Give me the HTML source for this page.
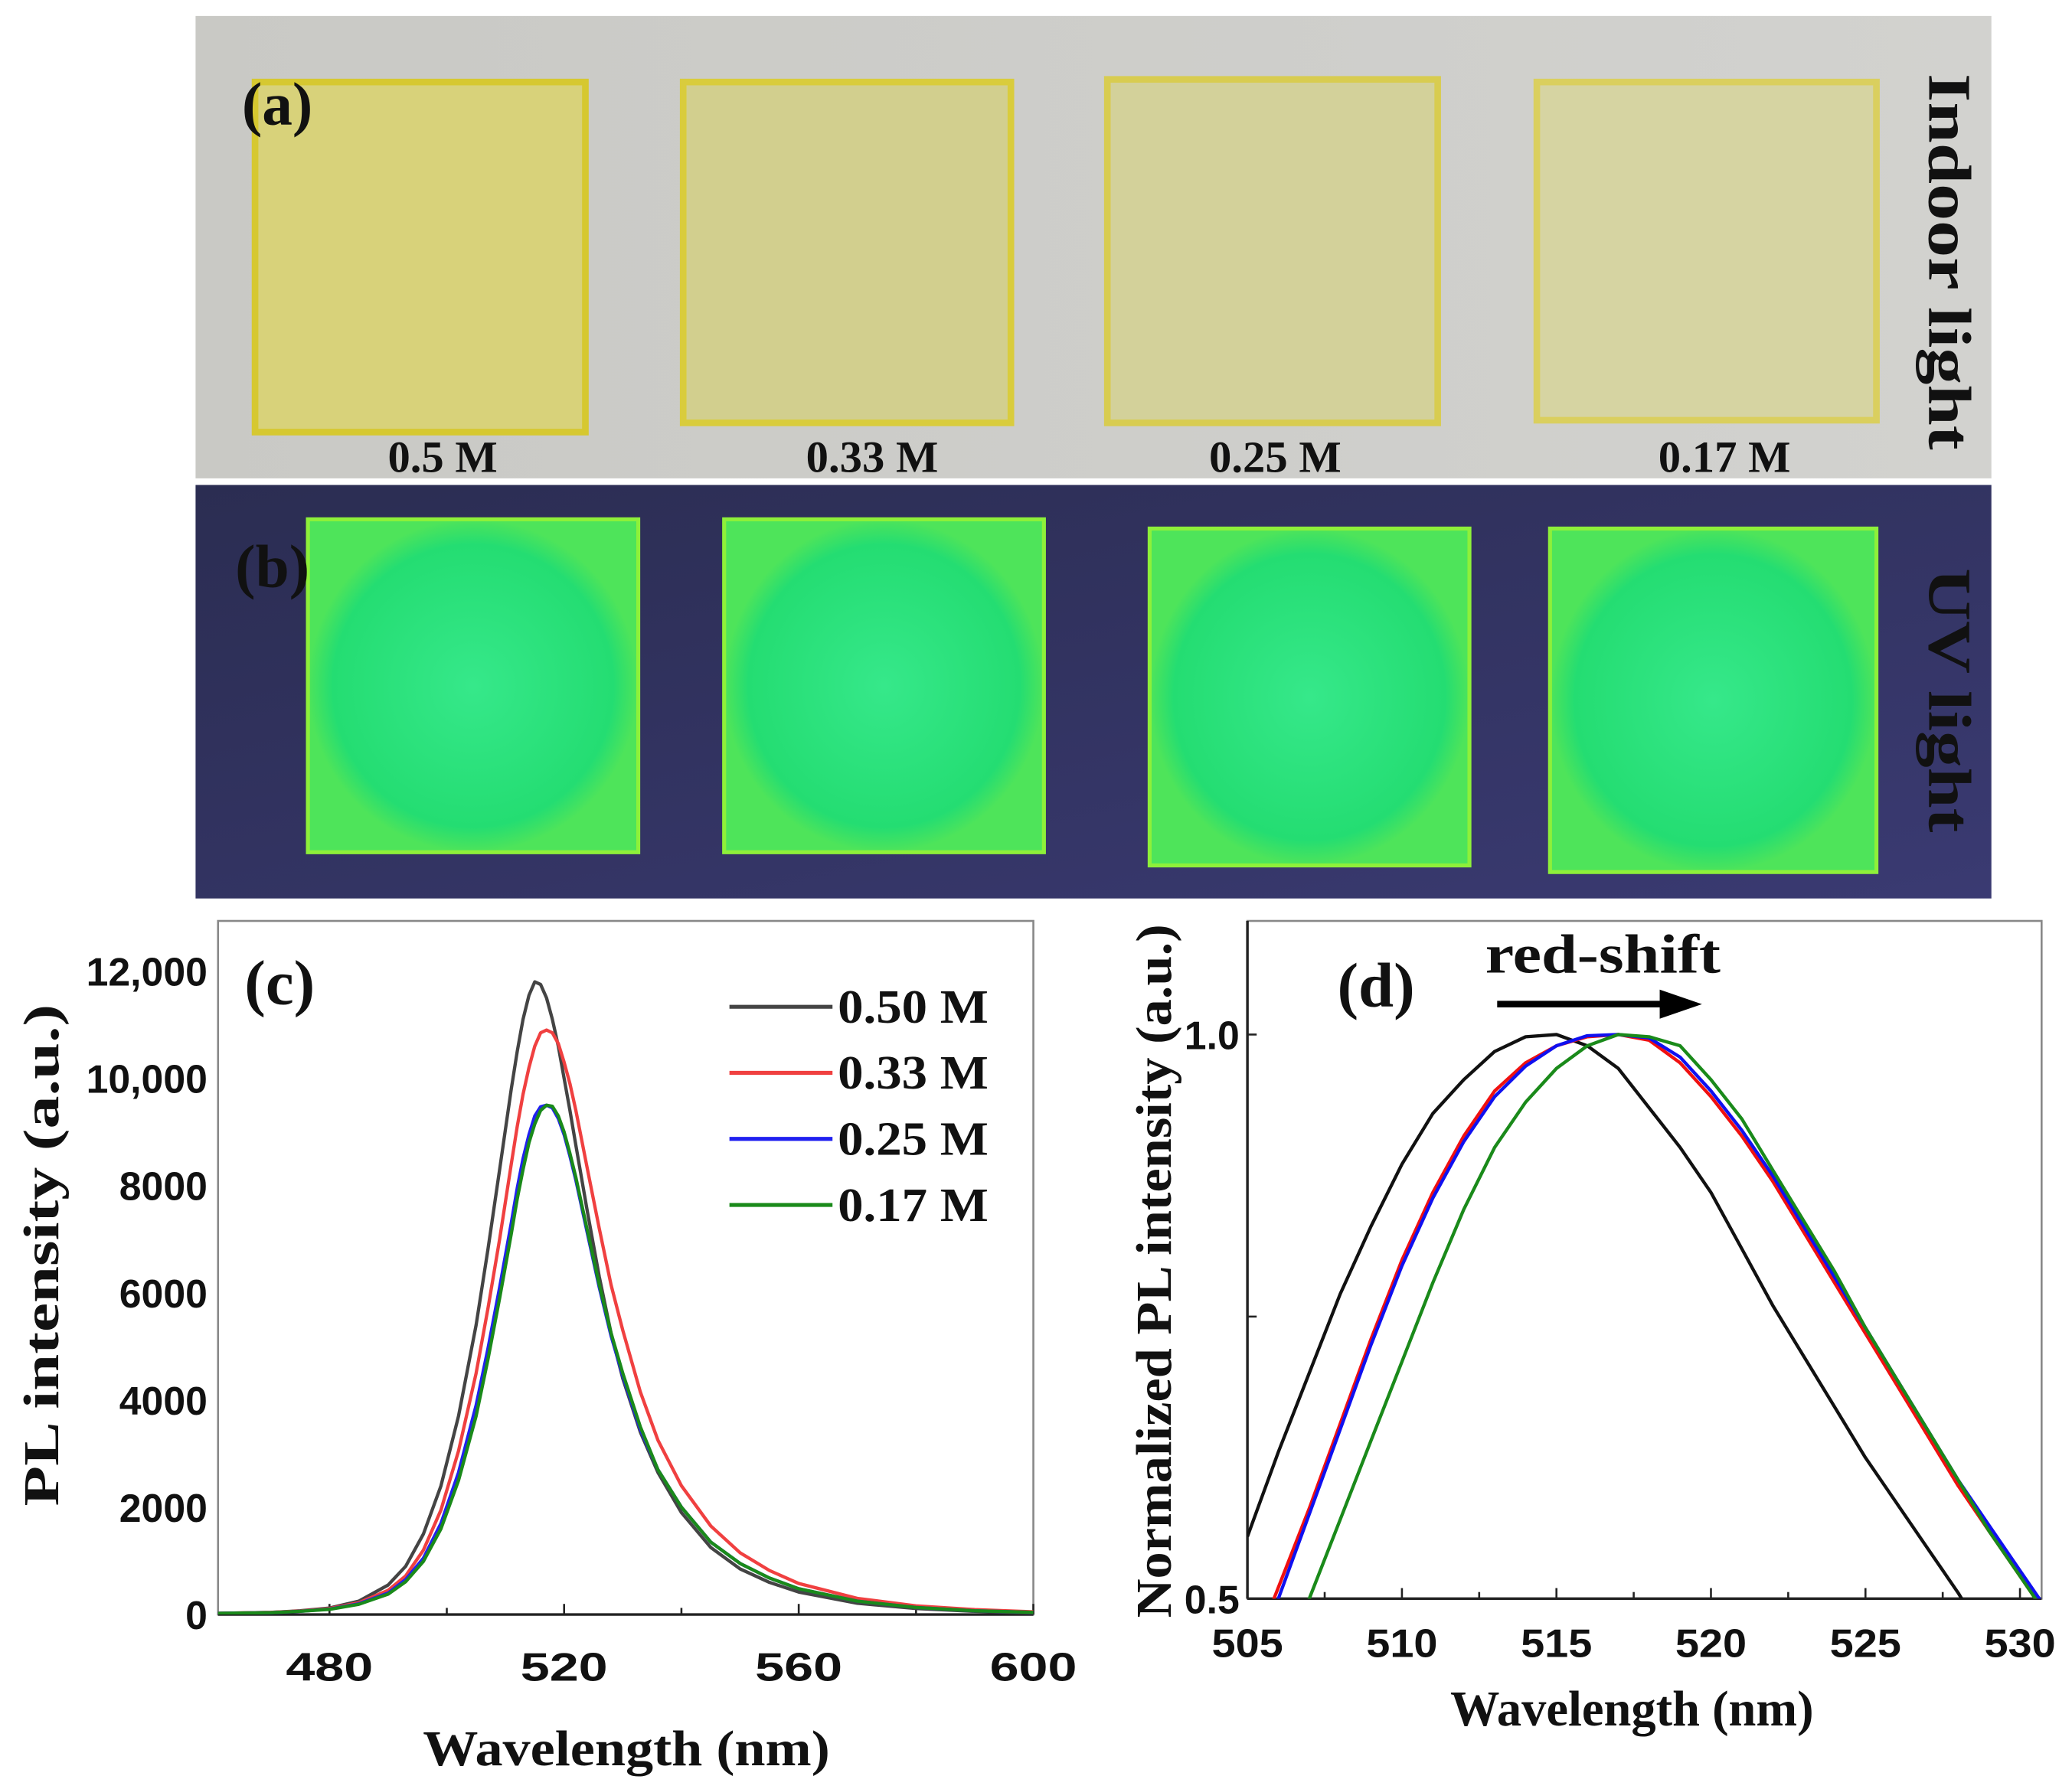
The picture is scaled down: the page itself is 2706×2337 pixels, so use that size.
<!DOCTYPE html>
<html><head><meta charset="utf-8">
<style>
html,body{margin:0;padding:0;background:#fff;}
svg{display:block;}
.tick{font-family:"Liberation Sans",sans-serif;font-weight:bold;font-size:30px;fill:#111;}
.title{font-family:"Liberation Serif",serif;font-weight:bold;font-size:38px;fill:#111;}
.lbl{font-family:"Liberation Serif",serif;font-weight:bold;fill:#111;}
</style></head>
<body>
<svg id="fig" width="2706" height="2337" viewBox="0 0 1568 1354" xmlns="http://www.w3.org/2000/svg">
<defs>
<linearGradient id="gA" x1="0" y1="0" x2="1" y2="0"><stop offset="0" stop-color="#c9c9c5"/><stop offset="1" stop-color="#d2d2cf"/></linearGradient>
<linearGradient id="gB" x1="0" y1="0" x2="1" y2="1"><stop offset="0" stop-color="#2b2d52"/><stop offset="1" stop-color="#3a3a72"/></linearGradient>
<radialGradient id="gG"><stop offset="0" stop-color="#36e88a"/><stop offset="0.85" stop-color="#24dd72"/><stop offset="1" stop-color="#4ee45a"/></radialGradient>
</defs>
<g>
<rect x="148" y="12" width="1359" height="350" fill="url(#gA)"/>
<rect x="193" y="62" width="250" height="265" fill="#d8d27a" stroke="#d6c830" stroke-width="5"/>
<rect x="517" y="62" width="248" height="258" fill="#d2cf8e" stroke="#d9cc3c" stroke-width="5"/>
<rect x="838" y="60" width="250" height="260" fill="#d3d19a" stroke="#d8cc50" stroke-width="5"/>
<rect x="1163" y="62" width="257" height="256" fill="#d6d4a2" stroke="#dacf5e" stroke-width="5"/>
<text class="lbl" x="183" y="94" font-size="46">(a)</text>
<text class="lbl" x="335" y="357" font-size="34" text-anchor="middle">0.5 M</text>
<text class="lbl" x="660" y="357" font-size="34" text-anchor="middle">0.33 M</text>
<text class="lbl" x="965" y="357" font-size="34" text-anchor="middle">0.25 M</text>
<text class="lbl" x="1305" y="357" font-size="34" text-anchor="middle">0.17 M</text>
<text class="lbl" font-size="46" textLength="285" lengthAdjust="spacingAndGlyphs" transform="translate(1460,198) rotate(90)" text-anchor="middle">Indoor light</text>
</g>
<g>
<rect x="148" y="367" width="1359" height="313" fill="url(#gB)"/>
<rect x="233" y="393" width="250" height="252" fill="url(#gG)" stroke="#8ef03a" stroke-width="3"/>
<rect x="548" y="393" width="242" height="252" fill="url(#gG)" stroke="#8ef03a" stroke-width="3"/>
<rect x="870" y="400" width="242" height="255" fill="url(#gG)" stroke="#8ef03a" stroke-width="3"/>
<rect x="1173" y="400" width="247" height="260" fill="url(#gG)" stroke="#8ef03a" stroke-width="3"/>
<text class="lbl" x="178" y="444" font-size="46">(b)</text>
<text class="lbl" font-size="46" textLength="200" lengthAdjust="spacingAndGlyphs" transform="translate(1460,530) rotate(90)" text-anchor="middle">UV light</text>
</g>
<g id="chartC"></g>
<g id="chartD"></g>
</svg>
<script>
// ---- panel (c) data ----
const cWavelengths = [460,470,475,480,485,490,493,496,499,502,505,507,509,511,512,513,514,515,516,517,518,519,520,521,522,524,526,528,530,533,536,540,545,550,555,560,570,580,590,600];
const c050 = [20,40,70,120,250,550,900,1500,2400,3700,5400,6800,8300,9800,10500,11100,11550,11800,11750,11500,11100,10600,10000,9400,8750,7500,6300,5250,4400,3400,2650,1900,1250,850,600,420,210,110,60,30];
const c033 = [20,40,65,110,220,450,720,1200,1950,3050,4500,5700,7000,8400,9100,9700,10200,10600,10850,10900,10850,10650,10300,9900,9400,8300,7200,6150,5300,4150,3250,2400,1650,1150,820,580,300,160,90,50];
const c025 = [20,35,60,100,200,400,650,1050,1700,2650,3900,4950,6100,7300,7950,8500,8950,9300,9470,9500,9450,9250,8950,8550,8100,7100,6100,5200,4450,3450,2700,2000,1350,950,680,480,250,130,70,40];
const c017 = [20,35,58,95,190,380,610,990,1600,2500,3700,4750,5900,7100,7750,8300,8800,9150,9400,9500,9480,9300,9000,8600,8150,7150,6150,5250,4500,3500,2700,2000,1350,950,680,480,250,130,70,40];
const cXTicks = [480,520,560,600];
const cYTicks = [0,2000,4000,6000,8000,10000,12000];
const cYTickLabels = ["0","2000","4000","6000","8000","10,000","12,000"];
const seriesNames = ["0.50 M","0.33 M","0.25 M","0.17 M"];
// ---- panel (d) data ----
const dBlackX = [505,506,507,508,509,510,511,512,513,514,515,516,517,518,519,520,521,522,523,524,525,526,527,528,529];
const dBlackY = [0.555,0.63,0.70,0.77,0.83,0.885,0.93,0.96,0.985,0.998,1.0,0.99,0.97,0.935,0.90,0.86,0.81,0.76,0.715,0.67,0.625,0.585,0.545,0.505,0.46];
const dX = [505,506,507,508,509,510,511,512,513,514,515,516,517,518,519,520,521,522,523,524,525,526,527,528,529,530,531];
const dRedY = [0.44,0.51,0.58,0.655,0.73,0.80,0.86,0.91,0.95,0.975,0.99,0.998,1.0,0.995,0.975,0.945,0.91,0.87,0.825,0.78,0.735,0.69,0.645,0.60,0.56,0.52,0.48];
const dBlueY = [0.43,0.50,0.575,0.65,0.725,0.795,0.855,0.905,0.945,0.972,0.99,0.999,1.0,0.997,0.98,0.95,0.915,0.875,0.83,0.785,0.74,0.695,0.65,0.605,0.565,0.525,0.485];
const dGreenY = [0.36,0.43,0.50,0.57,0.64,0.71,0.78,0.845,0.90,0.94,0.97,0.99,1.0,0.998,0.99,0.96,0.925,0.88,0.835,0.79,0.74,0.695,0.65,0.605,0.56,0.52,0.48];
const dXTicks = [505,510,515,520,525,530];
const dYTicks = [0.5,1.0];
const colors = ["#444","#f04040","#2020f0","#1a8a1a"];

const NS = "http://www.w3.org/2000/svg";
function mk(tag, attrs, parent){const e=document.createElementNS(NS,tag);for(const k in attrs)e.setAttribute(k,attrs[k]);parent.appendChild(e);return e;}

(function(){
const g=document.getElementById('chartC');
const L=165,T=697,R=782,B=1222;
const xs=v=>L+(v-461)/(600-461)*(R-L);
const ys=v=>B-(v/12000)*(1222-735);
const clip=mk('clipPath',{id:'clipC'},g);mk('rect',{x:L,y:T,width:R-L,height:B-T},clip);
const frame=mk('rect',{x:L,y:T,width:R-L,height:B-T,fill:'none',stroke:'#888','stroke-width':1.5},g);

const ax=mk('line',{x1:L,y1:B,x2:R,y2:B,stroke:'#222','stroke-width':2},g);

for(let v=480;v<=600;v+=20){mk('line',{x1:xs(v),y1:B,x2:xs(v),y2:B-(v%40===0?8:5),stroke:'#222','stroke-width':1.5},g);}
cXTicks.forEach(v=>{const t=mk('text',{x:xs(v),y:B+50,'text-anchor':'middle',class:'tick',textLength:66,lengthAdjust:'spacingAndGlyphs'},g);t.textContent=v;
});
cYTicks.forEach((v,i)=>{const t=mk('text',{x:L-8,y:ys(v)+11,'text-anchor':'end',class:'tick'},g);t.textContent=cYTickLabels[i];
});
const series=[c050,c033,c025,c017];
series.forEach((s,i)=>{const d=s.map((v,j)=>(j?'L':'M')+xs(cWavelengths[j]).toFixed(1)+','+ys(v).toFixed(1)).join('');
const p=mk('path',{d:d,fill:'none',stroke:colors[i],'stroke-width':2.5,'stroke-linejoin':'round','clip-path':'url(#clipC)'},g);

const ly=762+i*50;
const ll=mk('line',{x1:552,y1:ly,x2:630,y2:ly,stroke:colors[i],'stroke-width':3},g);

const lt=mk('text',{x:634,y:ly+12,class:'lbl','font-size':36,textLength:114,lengthAdjust:'spacingAndGlyphs'},g);lt.textContent=seriesNames[i];
});
const pl=mk('text',{x:185,y:760,class:'lbl','font-size':48},g);pl.textContent='(c)';

const xt=mk('text',{x:474,y:1336,'text-anchor':'middle',class:'title','font-size':42,textLength:308,lengthAdjust:'spacingAndGlyphs'},g);xt.textContent='Wavelength (nm)';

const yt=mk('text',{transform:'translate(44,950) rotate(-90)','text-anchor':'middle',class:'title','font-size':42,textLength:380,lengthAdjust:'spacingAndGlyphs'},g);yt.textContent='PL intensity (a.u.)';

})();

(function(){
const g=document.getElementById('chartD');
const L=944,T=697,R=1545,B=1210;
const xs=v=>L+(v-505)/(530.7-505)*(R-L);
const ys=v=>B-(v-0.5)/0.5*(1210-783);
const clip=mk('clipPath',{id:'clipD'},g);mk('rect',{x:L,y:T,width:R-L,height:B-T},clip);
const frame=mk('rect',{x:L,y:T,width:R-L,height:B-T,fill:'none',stroke:'#888','stroke-width':1.5},g);

const ax=mk('line',{x1:L,y1:B,x2:R,y2:B,stroke:'#222','stroke-width':2},g);

const ay=mk('line',{x1:L,y1:T,x2:L,y2:B,stroke:'#222','stroke-width':2},g);

for(let v=505;v<=530;v+=2.5){mk('line',{x1:xs(v),y1:B,x2:xs(v),y2:B-(v%5===0?8:5),stroke:'#222','stroke-width':1.5},g);}
[0.5,0.75,1.0].forEach(v=>mk('line',{x1:L,y1:ys(v),x2:L+7,y2:ys(v),stroke:'#222','stroke-width':1.5},g));
dXTicks.forEach(v=>{const t=mk('text',{x:xs(v),y:B+44,'text-anchor':'middle',class:'tick',textLength:54,lengthAdjust:'spacingAndGlyphs'},g);t.textContent=v;
});
dYTicks.forEach(v=>{const t=mk('text',{x:L-6,y:ys(v)+11,'text-anchor':'end',class:'tick'},g);t.textContent=v.toFixed(1);
});
const sets=[[dBlackX,dBlackY,'#111'],[dX,dRedY,'#f01010'],[dX,dBlueY,'#1010f0'],[dX,dGreenY,'#1a8a1a']];
sets.forEach((s,i)=>{const d=s[1].map((v,j)=>(j?'L':'M')+xs(s[0][j]).toFixed(1)+','+ys(v).toFixed(1)).join('');
const p=mk('path',{d:d,fill:'none',stroke:s[2],'stroke-width':2.5,'stroke-linejoin':'round','clip-path':'url(#clipD)'},g);
});
const pl=mk('text',{x:1012,y:762,class:'lbl','font-size':48},g);pl.textContent='(d)';

const rs=mk('text',{x:1213,y:736,'text-anchor':'middle',class:'lbl','font-size':42,textLength:178,lengthAdjust:'spacingAndGlyphs'},g);rs.textContent='red-shift';

const ar=mk('line',{x1:1133,y1:760,x2:1260,y2:760,stroke:'#000','stroke-width':5},g);

const ah=mk('polygon',{points:'1256,749 1288,760 1256,771',fill:'#000'},g);

const xt=mk('text',{x:1235,y:1306,'text-anchor':'middle',class:'title','font-size':38,textLength:275,lengthAdjust:'spacingAndGlyphs'},g);xt.textContent='Wavelength (nm)';

const yt=mk('text',{transform:'translate(886,962) rotate(-90)','text-anchor':'middle',class:'title','font-size':34,textLength:525,lengthAdjust:'spacingAndGlyphs'},g);yt.textContent='Normalized PL intensity (a.u.)';

})();
</script>
</body></html>
